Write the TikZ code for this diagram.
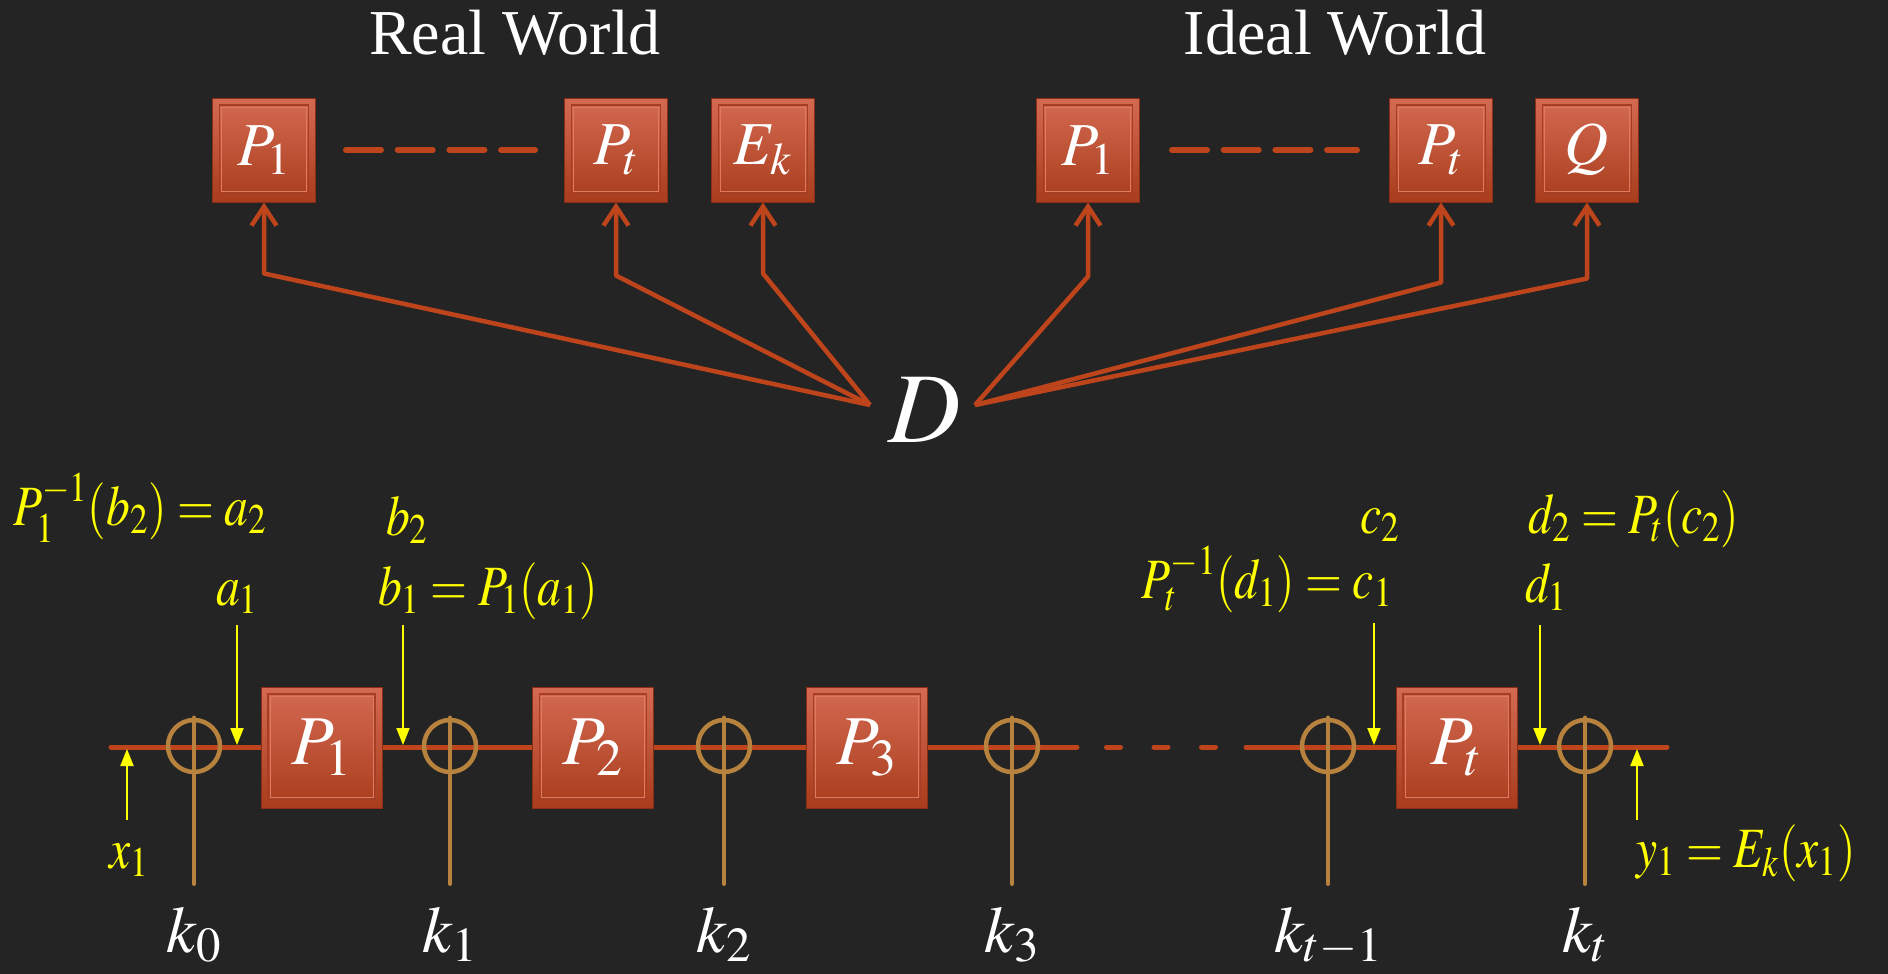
\documentclass[tikz,border=0pt]{standalone}
\usepackage{mathptmx}
\usepackage[no-math]{fontspec}
\setmainfont{Liberation Serif}
\usetikzlibrary{arrows.meta}
\definecolor{bg}{RGB}{36,36,36}
\definecolor{boxtop}{RGB}{212,106,82}
\definecolor{boxbot}{RGB}{168,60,28}
\definecolor{boxedge}{RGB}{140,45,22}
\definecolor{boxinner}{RGB}{165,62,35}
\definecolor{boxlight}{RGB}{222,122,95}
\definecolor{conncol}{RGB}{190,68,28}
\definecolor{xorcol}{RGB}{183,130,62}
\definecolor{yel}{RGB}{255,255,0}
\newcommand{\ytxt}[1]{\scalebox{0.95}[1.14]{#1}}
\tikzset{
  redbox/.style={draw=boxedge, line width=1pt, top color=boxtop, bottom color=boxbot,
    inner sep=0pt, text=white,
    path picture={
      \draw[boxinner, line width=1.6pt] ([shift={(7pt,-7pt)}]path picture bounding box.north west) rectangle ([shift={(-7pt,9pt)}]path picture bounding box.south east);
      \draw[boxlight, line width=0.6pt] ([shift={(9pt,-9pt)}]path picture bounding box.north west) rectangle ([shift={(-9pt,11pt)}]path picture bounding box.south east);
    }},
  tbox/.style={redbox, minimum width=103pt, minimum height=104pt, font=\fontsize{61}{68}\selectfont},
  bbox/.style={redbox, minimum width=121pt, minimum height=121pt, font=\fontsize{70}{78}\selectfont},
  title/.style={text=white, font=\fontsize{64}{70}\selectfont, inner sep=0pt},
  dlab/.style={text=white, font=\fontsize{100}{110}\selectfont, inner sep=0pt},
  klab/.style={text=white, font=\fontsize{66}{72}\selectfont, inner sep=0pt, anchor=base},
  ylab/.style={text=yel, font=\fontsize{50}{56}\selectfont, inner sep=0pt, anchor=base},
  conn/.style={draw=conncol, line width=4.5pt, line join=round, -{Straight Barb[length=19pt,width=25pt]}},
  tdash/.style={draw=conncol, line width=6pt, line cap=round, dash pattern=on 35pt off 16.7pt},
  mainline/.style={draw=conncol, line width=5pt, line cap=round},
  xorc/.style={circle, draw=xorcol, line width=4.5pt, minimum size=52pt, inner sep=0pt},
  kline/.style={draw=xorcol, line width=4.5pt, line cap=round},
  yarr/.style={draw=yel, line width=2pt, -{Triangle[length=17pt,width=13pt]}}
}
\begin{document}
\begin{tikzpicture}[x=1pt,y=-1pt]
\fill[bg] (0,0) rectangle (1888,974);
\useasboundingbox (0,0) rectangle (1888,974);

% titles
\node[title, anchor=base] (rw) at (515,55) {Real World};
\node[title, anchor=base] (iw) at (1335,55) {Ideal World};

% top boxes
\node[tbox] (p1r) at (264,150) {$P_1$};
\node[tbox] (ptr) at (616,150) {$P_t$};
\node[tbox] (ekr) at (763,150) {$E_k$};
\node[tbox] (p1i) at (1088,150) {$P_1$};
\node[tbox] (pti) at (1441,150) {$P_t$};
\node[tbox] (qi) at (1587,150) {$Q$};

\draw[tdash, shorten <=30pt, shorten >=29pt] (p1r.east) -- (ptr.west);
\draw[tdash, shorten <=32pt, shorten >=32pt] (p1i.east) -- (pti.west);

% distinguisher
\node[dlab] (D) at (925,410) {$D$};
\coordinate (Dl) at (870,405);
\coordinate (Dr) at (975,405);

\draw[conn] (Dl) -- ([yshift=-71pt]p1r.south) -- (p1r.south);
\draw[conn] (Dl) -- ([yshift=-73pt]ptr.south) -- (ptr.south);
\draw[conn] (Dl) -- ([yshift=-71pt]ekr.south) -- (ekr.south);
\draw[conn] (Dr) -- ([yshift=-74pt]p1i.south) -- (p1i.south);
\draw[conn] (Dr) -- ([yshift=-80pt]pti.south) -- (pti.south);
\draw[conn] (Dr) -- ([yshift=-76pt]qi.south) -- (qi.south);

% main line
\coordinate (lstart) at (111,747);
\coordinate (dash1) at (1077,747);
\coordinate (dash2) at (1246,747);
\coordinate (lend) at (1667,747);
\draw[mainline] (lstart) -- (dash1);
\draw[mainline, dash pattern=on 14pt off 33.5pt, shorten <=29.5pt, shorten >=30pt] (dash1) -- (dash2);
\draw[mainline] (dash2) -- (lend);

% xor circles and key lines
\node[xorc] (c0) at (194,746) {};
\node[xorc] (c1) at (450,746) {};
\node[xorc] (c2) at (724,746) {};
\node[xorc] (c3) at (1012,746) {};
\node[xorc] (ct1) at (1328,746) {};
\node[xorc] (ct) at (1585,746) {};
\foreach \c in {c0,c1,c2,c3,ct1,ct} { \draw[kline] (\c.north) -- ++(0,166); }

\node[klab] (k0) at (194,952) {$k_0$};
\node[klab] (k1) at (450,952) {$k_1$};
\node[klab] (k2) at (724,952) {$k_2$};
\node[klab] (k3) at (1012,952) {$k_3$};
\node[klab] (kt1) at (1328,952) {$k_{t-1}$};
\node[klab] (kt) at (1585,952) {$k_t$};

% bottom boxes
\node[bbox] (b1) at (321.5,747.5) {$P_1$};
\node[bbox] (b2) at (593,747.5) {$P_2$};
\node[bbox] (b3) at (867,747.5) {$P_3$};
\node[bbox] (bt) at (1456.5,747.5) {$P_t$};

% yellow labels
\node[ylab] (la2) at (140,525) {\ytxt{$P_1^{-1}(b_2)=a_2$}};
\node[ylab] (lb2) at (407,535) {\ytxt{$b_2$}};
\node[ylab] (la1) at (237,605) {\ytxt{$a_1$}};
\node[ylab] (lb1) at (488,605) {\ytxt{$b_1=P_1(a_1)$}};
\node[ylab] (lx1) at (129,868) {\ytxt{$x_1$}};
\node[ylab] (lc2) at (1380,533) {\ytxt{$c_2$}};
\node[ylab] (lc1) at (1267,598) {\ytxt{$P_t^{-1}(d_1)=c_1$}};
\node[ylab] (ld2) at (1634,533) {\ytxt{$d_2=P_t(c_2)$}};
\node[ylab] (ld1) at (1546,602) {\ytxt{$d_1$}};
\node[ylab] (ly1) at (1746,867) {\ytxt{$y_1=E_k(x_1)$}};

% yellow arrows
\coordinate (sa1) at (237,625); \coordinate (ta1) at (237,745);
\coordinate (sb1) at (403,625); \coordinate (tb1) at (403,745);
\coordinate (sc1) at (1374,623); \coordinate (tc1) at (1374,745);
\coordinate (sd1) at (1540,625); \coordinate (td1) at (1540,745);
\coordinate (sx1) at (127,820); \coordinate (tx1) at (127,749);
\coordinate (sy1) at (1637,820); \coordinate (ty1) at (1637,749);
\draw[yarr] (sa1) -- (ta1);
\draw[yarr] (sb1) -- (tb1);
\draw[yarr] (sc1) -- (tc1);
\draw[yarr] (sd1) -- (td1);
\draw[yarr] (sx1) -- (tx1);
\draw[yarr] (sy1) -- (ty1);
\end{tikzpicture}
\end{document}
